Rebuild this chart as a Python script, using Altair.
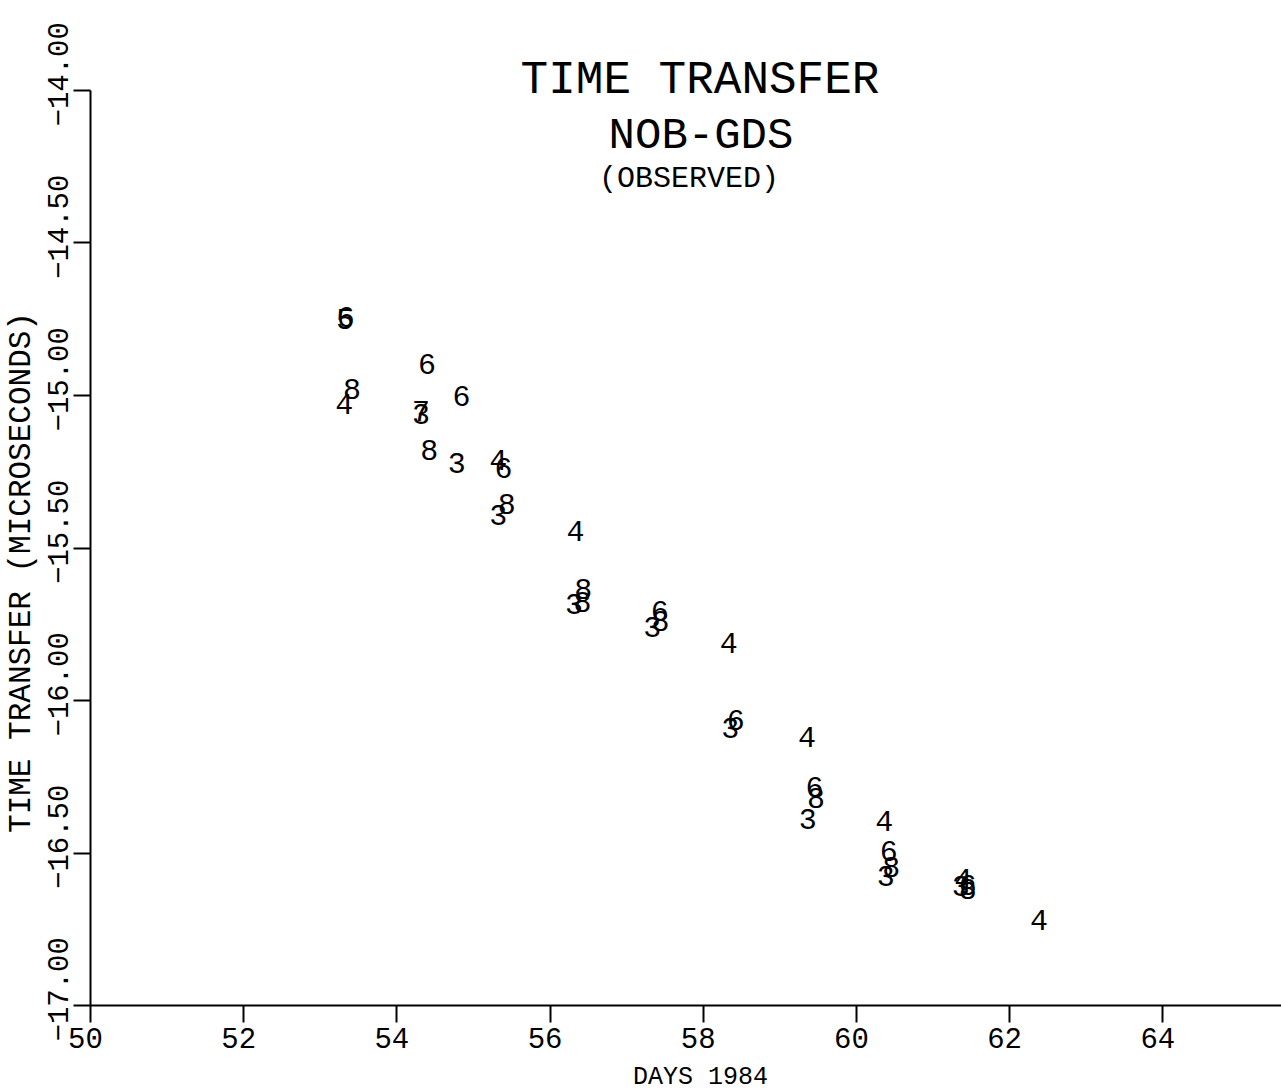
import altair as alt
import pandas as pd

# Observed time-transfer values (day of 1984, microseconds, plotted symbol)
days = [53.33, 53.34, 53.42, 53.32, 54.40, 54.85, 54.32, 54.32, 54.43, 54.79,
        55.33, 55.40, 55.44, 55.33, 56.34, 56.44, 56.32, 56.43, 57.44, 57.45,
        57.34, 58.34, 58.43, 58.36, 59.36, 59.46, 59.48, 59.37, 60.37, 60.43,
        60.46, 60.39, 61.40, 61.46, 61.46, 61.37, 62.39]
offsets = [-14.754, -14.748, -14.984, -15.033, -14.902, -15.005, -15.056, -15.066,
           -15.183, -15.225, -15.218, -15.241, -15.361, -15.398, -15.449, -15.638,
           -15.688, -15.683, -15.712, -15.744, -15.764, -15.816, -16.069, -16.095,
           -16.124, -16.287, -16.323, -16.393, -16.400, -16.498, -16.550, -16.580,
           -16.590, -16.610, -16.623, -16.613, -16.725]
codes = ["5", "6", "8", "4", "6", "6", "7", "3", "8", "3",
         "4", "6", "8", "3", "4", "8", "3", "8", "6", "8",
         "3", "4", "6", "3", "4", "6", "8", "3", "4", "6",
         "8", "3", "4", "6", "8", "3", "4"]

x_ticks = [50, 52, 54, 56, 58, 60, 62, 64]
y_ticks = [-17.0, -16.5, -16.0, -15.5, -15.0, -14.5, -14.0]
title_lines = ["TIME TRANSFER", "NOB-GDS", "(OBSERVED)"]

FONT = "Liberation Mono"

df = pd.DataFrame({"day": days, "tt": offsets, "code": codes})

points = alt.Chart(df).mark_text(
    font=FONT, fontSize=30, color="black", align="center", baseline="middle"
).encode(
    x=alt.X("day:Q",
            scale=alt.Scale(domain=[50, 65.55], nice=False, zero=False),
            axis=alt.Axis(values=x_ticks, format="d", title="DAYS 1984",
                          labelFont=FONT, labelFontSize=29, labelColor="black",
                          labelPadding=2, labelOffset=-5, labelFlush=False,
                          tickSize=17, tickWidth=2, tickColor="black",
                          domainColor="black", domainWidth=2, grid=False,
                          titleFont=FONT, titleFontSize=25, titleFontWeight="normal",
                          titleColor="black", titleX=610, titleY=78,
                          titleBaseline="alphabetic", titleAlign="center")),
    y=alt.Y("tt:Q",
            scale=alt.Scale(domain=[-17, -14], nice=False, zero=False),
            axis=alt.Axis(values=y_ticks, format=".2f",
                          title="TIME TRANSFER (MICROSECONDS)",
                          labelFont=FONT, labelFontSize=29, labelColor="black",
                          labelAngle=270, labelAlign="left", labelBaseline="middle",
                          labelPadding=15, labelOffset=36, labelFlush=False,
                          labelOverlap=False,
                          tickSize=17, tickWidth=2, tickColor="black",
                          domainColor="black", domainWidth=2, grid=False,
                          titleFont=FONT, titleFontSize=31, titleFontWeight="normal",
                          titleColor="black", titleAngle=270, titleX=-70, titleY=482,
                          titleBaseline="middle", titleAlign="center")),
    text="code:N",
)

t1 = alt.Chart(pd.DataFrame({"t": [title_lines[0]]})).mark_text(
    font=FONT, fontSize=46, color="black", align="center", baseline="alphabetic"
).encode(text="t:N", x=alt.value(610), y=alt.value(3))

t2 = alt.Chart(pd.DataFrame({"t": [title_lines[1]]})).mark_text(
    font=FONT, fontSize=44, color="black", align="center", baseline="alphabetic"
).encode(text="t:N", x=alt.value(611), y=alt.value(58))

t3 = alt.Chart(pd.DataFrame({"t": [title_lines[2]]})).mark_text(
    font=FONT, fontSize=30, color="black", align="center", baseline="alphabetic"
).encode(text="t:N", x=alt.value(599), y=alt.value(97))

chart = alt.layer(points, t1, t2, t3).properties(
    width=1191, height=915,
    autosize=alt.AutoSizeParams(type="none"),
    padding={"left": 90, "top": 90, "right": 0, "bottom": 85},
    background="white",
).configure_view(stroke=None)

chart.save("out.html", embed_options={"renderer": "svg", "actions": False})
